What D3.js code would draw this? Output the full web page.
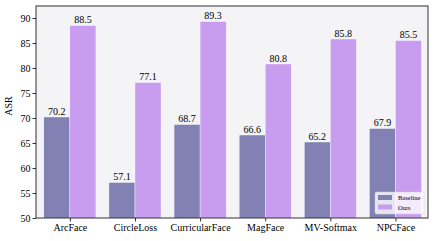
<!DOCTYPE html>
<html>
<head>
<meta charset="utf-8">
<script src="https://cdn.jsdelivr.net/npm/d3@7"></script>
<style>
  body { margin: 0; background: #fff; }
  svg text { font-family: 'Liberation Serif', 'Times New Roman', Times, 'DejaVu Serif', serif; fill: #000; }
</style>
</head>
<body>
<div class="chart"></div>
<script>
// data
var methods = ["ArcFace", "CircleLoss", "CurricularFace", "MagFace", "MV-Softmax", "NPCFace"];
var baseline = [70.2, 57.1, 68.7, 66.6, 65.2, 67.9];
var ours = [88.5, 77.1, 89.3, 80.8, 85.8, 85.5];
var seriesNames = ["Baseline", "Ours"];
var yTicks = [50, 55, 60, 65, 70, 75, 80, 85, 90];

var colors = ["#8281b3", "#c89cee"];
var serif = "'Liberation Serif', 'Times New Roman', Times, 'DejaVu Serif', serif";

var W = 436, H = 241;
var margin = { top: 6, right: 8, bottom: 23, left: 36 },
    width = W - margin.left - margin.right,
    height = H - margin.top - margin.bottom;

var svg = d3.select(".chart").append("svg")
    .attr("width", W)
    .attr("height", H)
    .append("g")
    .attr("transform", "translate(" + margin.left + "," + margin.top + ")");

var x = d3.scaleLinear().domain([-0.52, 5.5]).range([0, width]);
var y = d3.scaleLinear().domain([50, 92.4]).range([height, 0]);
var barW = 0.4;

// plot background
svg.append("rect")
    .attr("width", width)
    .attr("height", height)
    .attr("fill", "#f4f4f7");

var series = [baseline, ours];
series.forEach(function (vals, s) {
    var off = s === 0 ? -barW : 0;
    var g = svg.append("g");
    g.selectAll("rect")
        .data(vals)
        .enter().append("rect")
        .attr("x", function (d, i) { return x(i + off); })
        .attr("y", function (d) { return y(d); })
        .attr("width", x(barW) - x(0))
        .attr("height", function (d) { return height - y(d); })
        .attr("fill", colors[s])
        .attr("stroke", "#ffffff")
        .attr("stroke-width", 0.4);
    g.selectAll("text")
        .data(vals)
        .enter().append("text")
        .attr("x", function (d, i) { return x(i + off + barW / 2); })
        .attr("y", function (d) { return y(d) - 2.5; })
        .attr("text-anchor", "middle")
        .attr("font-family", serif)
        .style("font-size", "10px")
        .text(function (d) { return d.toFixed(1); });
});

// frame
svg.append("rect")
    .attr("width", width)
    .attr("height", height)
    .attr("fill", "none")
    .attr("stroke", "#000")
    .attr("stroke-width", 0.8);

// axes
var xAxis = svg.append("g")
    .attr("transform", "translate(0," + height + ")")
    .call(d3.axisBottom(x).tickValues(d3.range(methods.length))
        .tickFormat(function (i) { return methods[i]; })
        .tickSize(3.5).tickPadding(2));
var yAxis = svg.append("g")
    .call(d3.axisLeft(y).tickValues(yTicks).tickSize(3.5).tickPadding(2));

[xAxis, yAxis].forEach(function (a) {
    a.attr("font-family", serif).attr("font-size", 10);
    a.select(".domain").remove();
    a.selectAll("line").attr("stroke", "#000").attr("stroke-width", 0.8);
});

// y label
svg.append("text")
    .attr("transform", "rotate(-90)")
    .attr("x", -height / 2 + 6)
    .attr("y", -24)
    .attr("text-anchor", "middle")
    .attr("font-family", serif)
    .style("font-size", "10px")
    .text("ASR");

// legend
var lg = svg.append("g").attr("transform", "translate(" + (width - 53) + "," + (height - 26) + ")");
lg.append("rect")
    .attr("width", 49).attr("height", 22).attr("rx", 1.5)
    .attr("fill", "#ffffff").attr("fill-opacity", 0.8)
    .attr("stroke", "#cccccc").attr("stroke-width", 0.5);
seriesNames.forEach(function (n, i) {
    lg.append("rect")
        .attr("x", 3).attr("y", 3 + i * 9.5)
        .attr("width", 14).attr("height", 5)
        .attr("fill", colors[i]);
    lg.append("text")
        .attr("x", 23).attr("y", 8 + i * 9.5)
        .attr("font-family", serif)
        .style("font-size", "6.5px")
        .text(n);
});
</script>
</body>
</html>
